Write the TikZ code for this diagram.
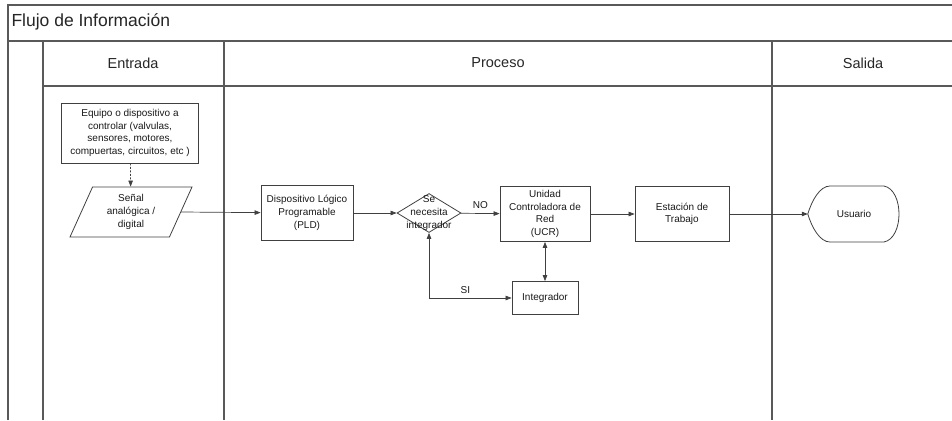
\documentclass[tikz,border=0pt]{standalone}
\usepackage{fontspec}
\setmainfont{Liberation Sans}
\usetikzlibrary{arrows.meta,shapes.geometric}

\begin{document}
\begin{tikzpicture}[x=1pt,y=-1pt,
  frame/.style={draw=black!65, line width=1.1pt},
  boxtext/.style={font=\fontsize{10}{12.7}\selectfont, align=center, text=black!90},
  procbox/.style={boxtext, draw=black!75, line width=0.8pt, inner sep=1pt},
  arr/.style={draw=black!75, line width=0.7pt, -{Triangle[length=6pt,width=4.5pt]}},
  lbl/.style={font=\fontsize{10}{11}\selectfont, text=black!90},
  head/.style={font=\fontsize{14.5}{16}\selectfont, text=black!85}]

\useasboundingbox (0,0) rectangle (952,420);

% swimlane frame
\draw[frame] (8,420) -- (8,5) -- (952,5);
\draw[frame] (8,41) -- (952,41);
\draw[frame] (43,420) -- (43,41);
\draw[frame] (43,86) -- (952,86);
\draw[frame] (224,41) -- (224,420);
\draw[frame] (772,41) -- (772,420);

\node[font=\fontsize{17.5}{19}\selectfont, text=black!85, anchor=west] (title) at (8,22) {Flujo de Información};
\node[head] (hin) at (133,63) {Entrada};
\node[head] (hproc) at (498,63) {Proceso};
\node[head] (hout) at (863,63) {Salida};

% nodes
\node[procbox, minimum width=137pt, minimum height=60pt] (equipo) at (130,133)
  {Equipo o dispositivo a\\controlar (valvulas,\\sensores, motores,\\compuertas, circuitos, etc )};

\node[boxtext, draw=black!75, line width=0.8pt, trapezium, trapezium left angle=57,
  trapezium right angle=123, trapezium stretches body, minimum width=122pt,
  minimum height=50pt, inner sep=0pt] (senal) at (131,212) {Señal\\analógica /\\digital};

\node[procbox, minimum width=92pt, minimum height=55pt] (pld) at (307,213)
  {Dispositivo Lógico\\Programable\\(PLD)};

\node[diamond, draw=black!75, line width=0.8pt, minimum width=64pt, minimum height=39pt,
  inner sep=0pt] (dec) at (429,213) {};
\node[boxtext] (dectext) at (dec) {Se\\necesita\\integrador};

\node[procbox, minimum width=90pt, minimum height=55pt] (ucr) at (545,214)
  {Unidad\\Controladora de\\Red\\(UCR)};

\node[procbox, minimum width=94pt, minimum height=55pt] (est) at (682,214)
  {Estación de\\Trabajo};

\node[procbox, minimum width=66pt, minimum height=33pt] (integ) at (545,298)
  {Integrador};

% display-shaped terminal for the user
\node[boxtext, minimum width=92pt, minimum height=56pt, inner sep=0pt] (usr) at (854,214) {Usuario};
\draw[draw=black!75, line width=0.8pt]
  (usr.west) .. controls (812,200) and (820,186) .. (830,186)
  -- (884,186) .. controls (904,190) and (904,238) .. (884,242)
  -- (830,242) .. controls (820,242) and (812,228) .. (usr.west) -- cycle;

% connectors
\draw[arr, dash pattern=on 2pt off 1.5pt] (equipo) -- (senal);
\draw[arr] (senal.east) -- (pld);
\draw[arr] (pld) -- (dec);
\draw[arr] (dec) -- node[lbl, above=1pt] (no) {NO} (ucr);
\draw[arr] (ucr) -- (est);
\draw[arr] (est) -- (usr.west);
\draw[arr, {Triangle[length=6pt,width=4.5pt]}-{Triangle[length=6pt,width=4.5pt]}] (ucr) -- (integ);
\draw[arr, {Triangle[length=6pt,width=4.5pt]}-{Triangle[length=6pt,width=4.5pt]}]
  (dec.south) |- node[lbl, pos=0.72, above=1pt] (si) {SI} (integ.west);

\end{tikzpicture}
\end{document}
